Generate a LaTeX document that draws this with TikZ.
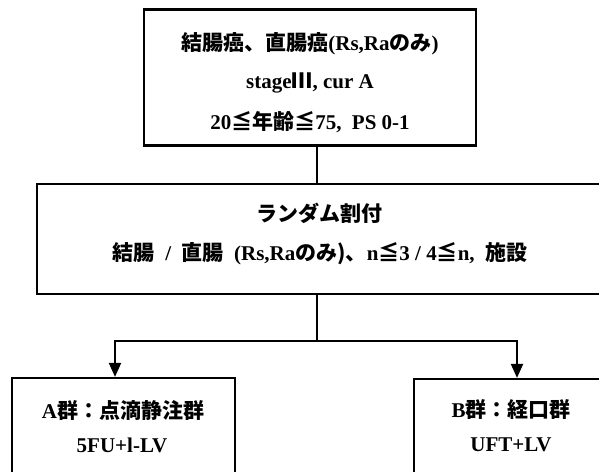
\documentclass[tikz,border=0pt]{standalone}
\usepackage{fontspec}
\setmainfont{Liberation Serif}
\newfontfamily\cjkfont{Noto Sans CJK JP}
\newcommand\JP[1]{{\cjkfont #1}}
\usetikzlibrary{arrows.meta}
\begin{document}
\begin{tikzpicture}[x=1pt,y=-1pt,
  box/.style={draw, line width=2.2pt, inner sep=0pt},
  txt/.style={font=\fontsize{21}{25}\bfseries\selectfont, inner sep=0pt, anchor=center},
  link/.style={line width=2pt},
  arr/.style={line width=2pt, -{Triangle[length=14pt,width=12pt]}}]
\useasboundingbox (0,0) rectangle (599,471);
% boxes
\node[box, minimum width=332pt, minimum height=136pt] (top) at (310,77.5) {};
\node[box, minimum width=564pt, minimum height=110pt] (mid) at (319,239) {};
\node[box, minimum width=223pt, minimum height=112pt] (A) at (123.5,434) {};
\node[box, minimum width=196pt, minimum height=112pt] (B) at (512,435) {};
% texts
\node[txt] (t1) at (310,44) {\JP{結腸癌、直腸癌}(Rs,Ra\JP{のみ})};
\node[txt] (t2) at (310,83) {stage\JP{Ⅲ}, cur A};
\node[txt] (t3) at (310,122) {20\JP{≦年齢≦}75,\ \ PS 0-1};
\node[txt] (m1) at (319,213) {\JP{ランダム割付}};
\node[txt] (m2) at (320,254) {\JP{結腸}\ \ /\ \ \JP{直腸}\ \ (Rs,Ra\JP{のみ)、}n\JP{≦}3 / 4\JP{≦}n,\ \ \JP{施設}};
\node[txt] (a1) at (123,410) {A\JP{群：点滴静注群}};
\node[txt] (a2) at (122,445) {5FU+l-LV};
\node[txt] (b1) at (511,410) {B\JP{群：経口群}};
\node[txt] (b2) at (511,445) {UFT+LV};
% connectors
\coordinate (split) at (317,341);
\draw[link] (top.south -| split) -- (mid.north -| split);
\draw[link] (mid.south -| split) -- (split);
\draw[arr] (split) -| ([xshift=-8.5pt]A.north);
\draw[arr] (split) -| ([xshift=5pt]B.north);
\end{tikzpicture}
\end{document}
